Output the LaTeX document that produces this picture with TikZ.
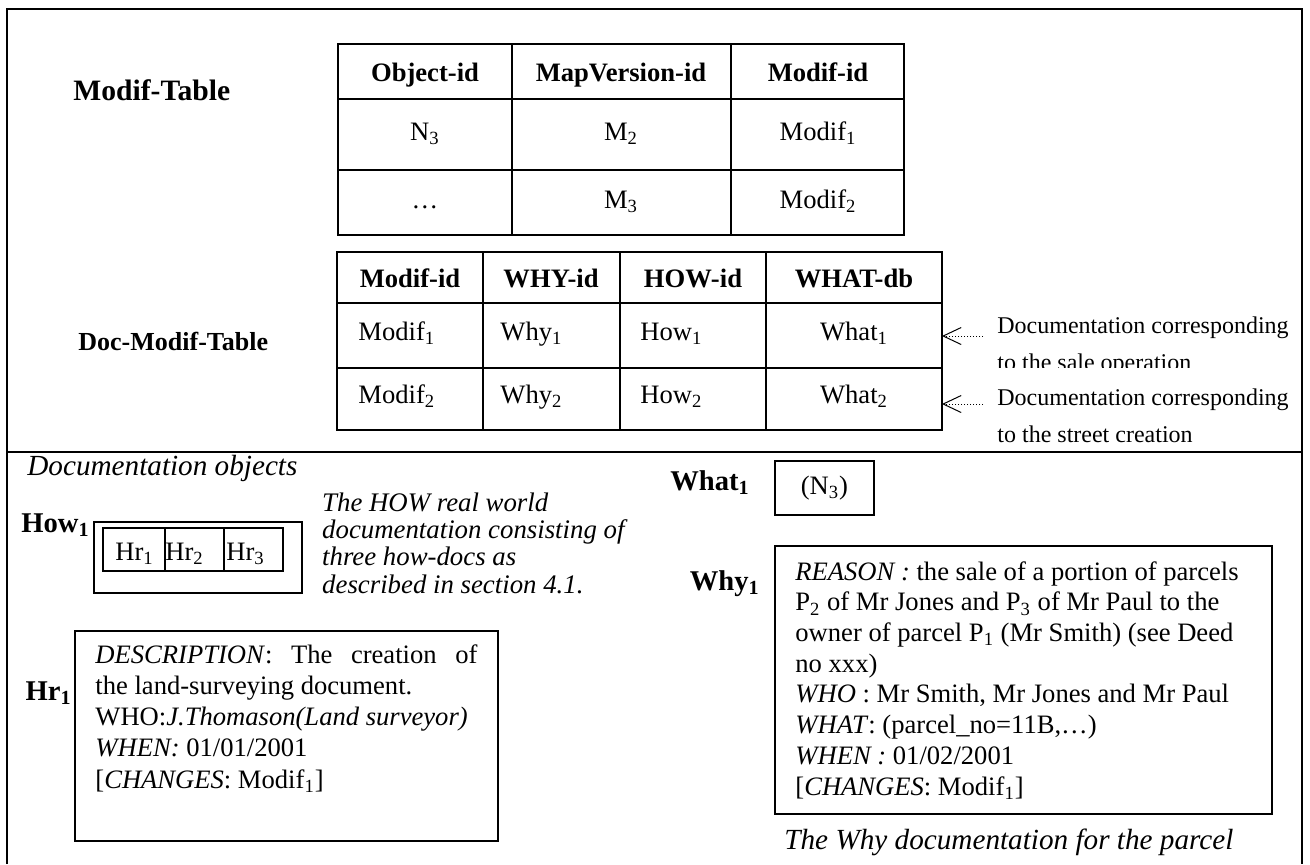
\documentclass[tikz,border=0pt]{standalone}
\usepackage{fontspec}
\setmainfont{Liberation Serif}
\usetikzlibrary{arrows.meta,positioning}

\begin{document}
\begin{tikzpicture}[x=0.5pt,y=-0.5pt,
    outer/.style={line width=1.2pt},
    tabline/.style={line width=1pt},
    box/.style={draw,line width=0.9pt,inner sep=0pt,anchor=north west},
    lbl/.style={font=\fontsize{14.3}{17}\selectfont\bfseries,inner sep=0pt},
    cell/.style={font=\fontsize{13.3}{16}\selectfont,inner sep=0pt},
    head/.style={cell,font=\fontsize{13.3}{16}\selectfont\bfseries},
    body/.style={font=\fontsize{13.3}{15.4}\selectfont,align=left,inner sep=0pt,anchor=base west},
    capt/.style={font=\fontsize{14.6}{17}\selectfont\itshape,inner sep=0pt},
    note/.style={font=\fontsize{12}{18.5}\selectfont,align=left,inner ysep=0pt,inner xsep=7pt,anchor=base west},
    ptr/.style={densely dotted,line width=0.5pt,-{Straight Barb[length=9pt,width=8.5pt]}}]
    \useasboundingbox (0,0) rectangle (1310,864);
    \draw[outer] (7,864) -- (7,9) -- (1302,9) -- (1302,864);
    \draw[outer] (7,452) -- (1302,452);

    \node[lbl,font=\fontsize{14.8}{17}\selectfont\bfseries,anchor=base west] (mtlbl) at (73,100) {Modif-Table};
    \draw[tabline] (338,44) rectangle (904,235);
    \foreach \x in {512,731} \draw[tabline] (\x,44) -- (\x,235);
    \foreach \y in {99,170} \draw[tabline] (338,\y) -- (904,\y);
    \foreach \x/\name/\t/\a/\b in {
        425/oid/Object-id/N\textsubscript{3}/…,
        621/mvid/MapVersion-id/M\textsubscript{2}/M\textsubscript{3},
        818/mid/Modif-id/Modif\textsubscript{1}/Modif\textsubscript{2}}{
        \node[head,anchor=base] (mh-\name) at (\x,81) {\t};
        \node[cell,anchor=base] (m1-\name) at (\x,140) {\a};
        \node[cell,anchor=base] (m2-\name) at (\x,208) {\b};
    }

    \node[lbl,font=\fontsize{13}{16}\selectfont\bfseries,anchor=base west] (dmtlbl) at (78,350) {Doc-Modif-Table};
    \draw[tabline] (337,252) rectangle (942,430);
    \foreach \x in {483,620,766} \draw[tabline] (\x,252) -- (\x,430);
    \foreach \y in {303,368} \draw[tabline] (337,\y) -- (942,\y);
    \foreach \x/\name/\t in {410/mid/Modif-id,551/why/WHY-id,693/how/HOW-id,854/what/WHAT-db}
        \node[head,anchor=base] (dh-\name) at (\x,287) {\t};
    \foreach \r/\y in {1/340,2/403}{
        \node[cell,anchor=base west] (d\r-mid) at (358,\y) {Modif\textsubscript{\r}};
        \node[cell,anchor=base west] (d\r-why) at (500,\y) {Why\textsubscript{\r}};
        \node[cell,anchor=base west] (d\r-how) at (640,\y) {How\textsubscript{\r}};
        \node[cell,anchor=base] (d\r-what) at (854,\y) {What\textsubscript{\r}};
    }
    \coordinate (w1) at (942,336);
    \coordinate (w2) at (942,404);

    \begin{scope}
        \clip (975,300) rectangle (1300,367);
        \node[note] (note1) at (983,370) {Documentation corresponding\\to the sale operation};
    \end{scope}
    \node[note] (note2) at (983,442) {Documentation corresponding\\to the street creation};
    \draw[ptr] (note1.west |- w1) -- (w1);
    \draw[ptr] (note2.west |- w2) -- (w2);

    \node[capt,anchor=base west] (docobj) at (27,475) {Documentation objects};

    \node[box,minimum width=104pt,minimum height=35.5pt] (how) at (93,521) {};
    \foreach \i/\x/\w/\p in {1/102/31/13,2/164/29.5/1,3/223/29.5/3}{
        \node[box,line width=0.8pt,minimum width=\w pt,minimum height=21.5pt] (hr\i) at (\x,527) {};
        \node[cell,anchor=base west] (hrt\i) at ([shift={(\p,33)}]hr\i.north west) {Hr\textsubscript{\i}};
    }
    \node[lbl,anchor=base east] (howlbl) at ([shift={(-3,11)}]how.north west) {How\textsubscript{1}};
    \node[body,font=\fontsize{13.4}{13.65}\selectfont\itshape] (howcap) at ([shift={(19,72)}]how.north east)
        {The HOW real world\\documentation consisting of\\three how-docs as\\described in section 4.1.};

    \node[box,minimum width=211.5pt,minimum height=105pt] (hrdoc) at (74,630) {};
    \node[body,font=\fontsize{13.3}{15.6}\selectfont] (hrtxt) at ([shift={(21,158)}]hrdoc.north west)
        {\makebox[191pt][s]{\textit{DESCRIPTION}: The creation of}\\
         the land-surveying document.\\
         WHO:\textit{J.Thomason(Land surveyor)}\\
         \textit{WHEN:} 01/01/2001\\
         {[}\textit{CHANGES}: Modif\textsubscript{1}]};
    \node[lbl,anchor=base east] (hrlbl) at ([shift={(-2,70)}]hrdoc.north west) {Hr\textsubscript{1}};

    \node[box,cell,minimum width=49.5pt,minimum height=27pt] (what) at (774,460) {(N\textsubscript{3})};
    \node[lbl,anchor=base east] (whatlbl) at ([shift={(-24,30)}]what.north west) {What\textsubscript{1}};

    \node[box,minimum width=248.5pt,minimum height=134pt] (why) at (774,545) {};
    \node[body,font=\fontsize{13.3}{15.35}\selectfont] (whytxt) at ([shift={(21,250)}]why.north west)
        {\textit{REASON :} the sale of a portion of parcels\\
         P\textsubscript{2} of Mr Jones and P\textsubscript{3} of Mr Paul to the\\
         owner of parcel P\textsubscript{1} (Mr Smith) (see Deed\\
         no xxx)\\
         \textit{WHO} : Mr Smith, Mr Jones and Mr Paul\\
         \textit{WHAT}: (parcel\_no=11B,…)\\
         \textit{WHEN :} 01/02/2001\\
         {[}\textit{CHANGES}: Modif\textsubscript{1}]};
    \node[lbl,anchor=base east] (whylbl) at ([shift={(-14,45)}]why.north west) {Why\textsubscript{1}};
    \node[capt,anchor=base west] (whycap) at ([shift={(10,35)}]why.south west) {The Why documentation for the parcel};
\end{tikzpicture}
\end{document}
